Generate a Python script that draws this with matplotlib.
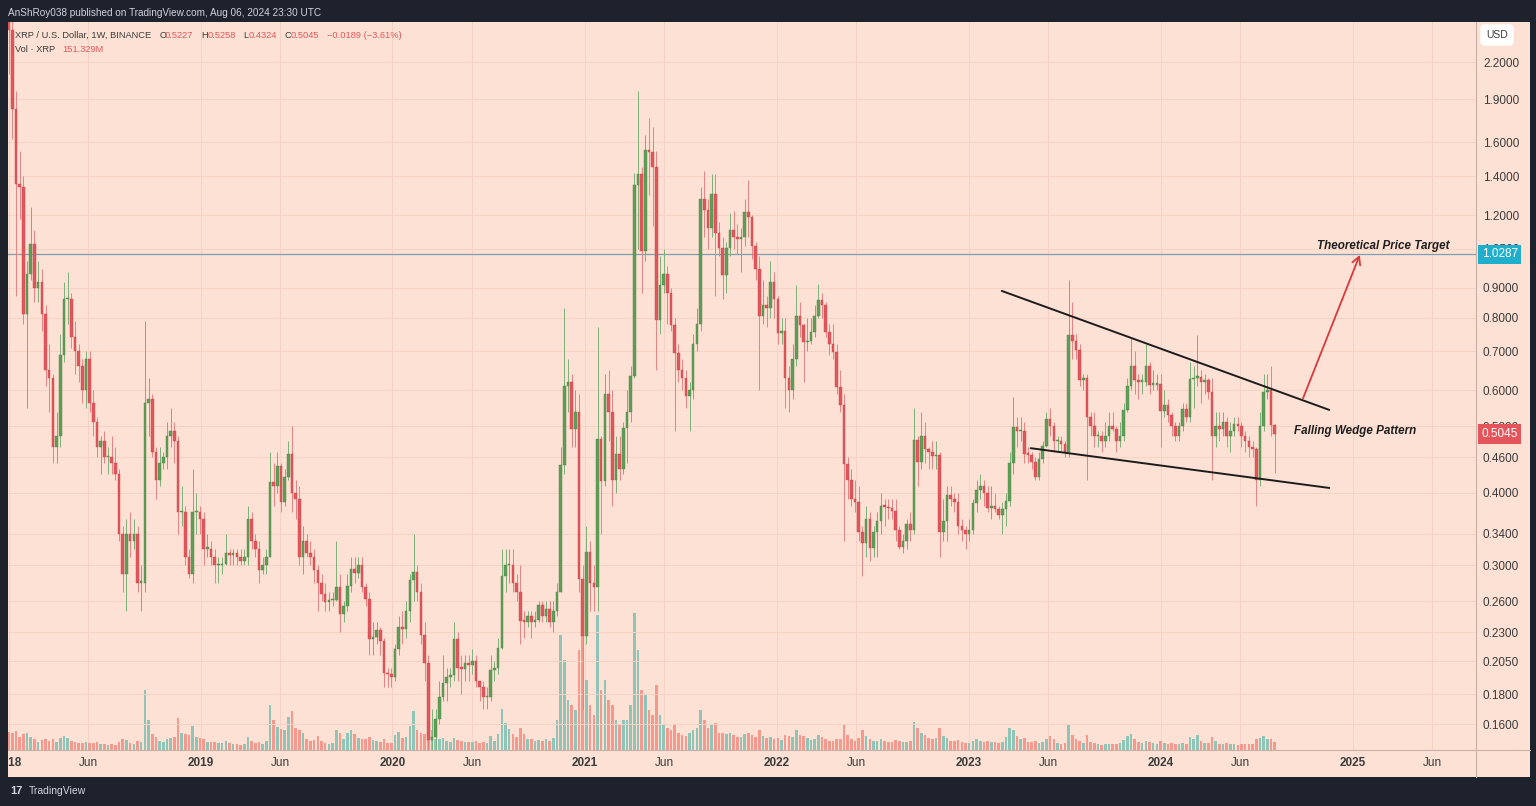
import numpy as np
import matplotlib
matplotlib.use("Agg")
import matplotlib.pyplot as plt
import matplotlib.dates as mdates
from matplotlib.lines import Line2D
from matplotlib.patches import Rectangle
from matplotlib.ticker import NullLocator, NullFormatter

plt.rcParams['font.family'] = ['Liberation Sans', 'DejaVu Sans']

# weekly XRP / USD candles (Binance, 1W), Jan 2018 - Aug 2024
first_open = 2.80

close_2018 = [2.50, 1.83, 1.36, 1.34, 0.81, 0.95, 1.07, 0.90, 0.92, 0.81, 0.65, 0.63, 0.48, 0.50, 0.69, 0.86,
              0.86, 0.74, 0.70, 0.66, 0.60, 0.68, 0.57, 0.53, 0.48, 0.49, 0.46, 0.46, 0.45, 0.43, 0.34, 0.29,
              0.34, 0.33, 0.34, 0.28, 0.28, 0.57, 0.58, 0.47, 0.42, 0.45, 0.46, 0.50, 0.51, 0.49, 0.37, 0.37,
              0.31, 0.29, 0.37, 0.37]
high_2018 = [3.30, 2.62, 1.96, 1.55, 1.40, 1.00, 1.24, 1.13, 1.00, 0.97, 0.84, 0.72, 0.64, 0.55, 0.75, 0.92,
             0.96, 0.88, 0.79, 0.72, 0.68, 0.70, 0.70, 0.60, 0.54, 0.50, 0.51, 0.48, 0.50, 0.48, 0.44, 0.35,
             0.36, 0.37, 0.36, 0.35, 0.30, 0.79, 0.63, 0.59, 0.48, 0.48, 0.47, 0.53, 0.56, 0.53, 0.50, 0.41,
             0.38, 0.32, 0.44, 0.40]
low_2018 = [2.10, 1.62, 0.87, 1.18, 0.78, 0.56, 0.93, 0.85, 0.85, 0.76, 0.61, 0.55, 0.45, 0.45, 0.48, 0.67,
            0.78, 0.71, 0.64, 0.62, 0.57, 0.56, 0.55, 0.50, 0.46, 0.43, 0.45, 0.43, 0.43, 0.42, 0.33, 0.27,
            0.25, 0.31, 0.32, 0.27, 0.25, 0.27, 0.50, 0.46, 0.39, 0.41, 0.44, 0.44, 0.48, 0.45, 0.34, 0.35,
            0.30, 0.285, 0.28, 0.34]
vol_2018 = [340, 320, 360, 250, 300, 330, 240, 200, 160, 190, 200, 170, 210, 150, 220, 260,
            230, 180, 150, 140, 130, 150, 140, 130, 150, 120, 110, 100, 110, 100, 150, 210,
            190, 140, 120, 170, 160, 1140, 560, 300, 250, 180, 150, 200, 230, 240, 600, 330,
            300, 280, 450, 250]

close_2019 = [0.36, 0.32, 0.32, 0.31, 0.30, 0.30, 0.302, 0.315, 0.312, 0.315, 0.31, 0.305, 0.31, 0.36, 0.33, 0.32,
              0.295, 0.30, 0.31, 0.417, 0.41, 0.444, 0.386, 0.425, 0.466, 0.40, 0.39, 0.31, 0.33, 0.315, 0.31, 0.295,
              0.28, 0.268, 0.259, 0.261, 0.262, 0.275, 0.247, 0.255, 0.276, 0.296, 0.291, 0.30, 0.275, 0.263, 0.224,
              0.226, 0.232, 0.222, 0.196, 0.195]
high_2019 = [0.38, 0.37, 0.34, 0.33, 0.32, 0.31, 0.31, 0.34, 0.32, 0.32, 0.32, 0.32, 0.32, 0.38, 0.37, 0.34,
             0.33, 0.31, 0.32, 0.47, 0.45, 0.47, 0.45, 0.44, 0.49, 0.52, 0.42, 0.41, 0.35, 0.34, 0.33, 0.32,
             0.30, 0.29, 0.28, 0.27, 0.27, 0.33, 0.29, 0.26, 0.29, 0.31, 0.31, 0.31, 0.31, 0.28, 0.27, 0.24,
             0.24, 0.235, 0.225, 0.20]
low_2019 = [0.34, 0.30, 0.31, 0.30, 0.28, 0.28, 0.29, 0.30, 0.30, 0.30, 0.30, 0.30, 0.30, 0.30, 0.32, 0.31,
            0.28, 0.29, 0.29, 0.31, 0.38, 0.40, 0.37, 0.38, 0.42, 0.37, 0.36, 0.30, 0.29, 0.31, 0.30, 0.28,
            0.25, 0.26, 0.25, 0.25, 0.255, 0.26, 0.23, 0.24, 0.25, 0.27, 0.28, 0.285, 0.27, 0.255, 0.21, 0.21,
            0.22, 0.21, 0.185, 0.185]
vol_2019 = [230, 200, 160, 150, 150, 140, 130, 180, 130, 120, 110, 100, 110, 250, 180, 130,
            150, 120, 180, 850, 560, 440, 400, 380, 620, 740, 420, 380, 330, 200, 180, 190,
            260, 170, 140, 120, 130, 380, 330, 200, 330, 370, 300, 220, 200, 210, 250, 190,
            170, 160, 200, 140]

close_2020 = [0.193, 0.215, 0.235, 0.233, 0.25, 0.283, 0.292, 0.27, 0.228, 0.204, 0.150, 0.152, 0.163, 0.178,
              0.188, 0.193, 0.194, 0.224, 0.20, 0.199, 0.204, 0.202, 0.205, 0.19, 0.185, 0.178, 0.178, 0.198,
              0.20, 0.216, 0.288, 0.30, 0.30, 0.28, 0.27, 0.241, 0.24, 0.245, 0.24, 0.242, 0.256, 0.245, 0.252,
              0.24, 0.25, 0.27, 0.446, 0.609, 0.62, 0.514, 0.55, 0.284]
high_2020 = [0.20, 0.22, 0.245, 0.25, 0.26, 0.29, 0.34, 0.30, 0.28, 0.24, 0.21, 0.17, 0.17, 0.19,
             0.21, 0.20, 0.20, 0.24, 0.23, 0.21, 0.21, 0.21, 0.215, 0.21, 0.19, 0.19, 0.185, 0.21,
             0.205, 0.225, 0.32, 0.32, 0.32, 0.32, 0.29, 0.30, 0.25, 0.25, 0.25, 0.25, 0.26, 0.26, 0.26,
             0.26, 0.26, 0.28, 0.48, 0.83, 0.68, 0.64, 0.60, 0.59]
low_2020 = [0.185, 0.19, 0.21, 0.22, 0.225, 0.24, 0.26, 0.26, 0.22, 0.19, 0.11, 0.135, 0.145, 0.16,
            0.175, 0.175, 0.185, 0.19, 0.19, 0.18, 0.19, 0.19, 0.195, 0.185, 0.175, 0.17, 0.17, 0.175,
            0.19, 0.195, 0.215, 0.27, 0.28, 0.27, 0.26, 0.22, 0.225, 0.235, 0.225, 0.235, 0.24, 0.24, 0.24,
            0.235, 0.23, 0.245, 0.27, 0.43, 0.55, 0.48, 0.48, 0.27]
vol_2020 = [130, 280, 350, 220, 240, 450, 740, 380, 330, 300, 480, 370, 210, 200,
            220, 170, 160, 230, 190, 170, 160, 150, 160, 170, 140, 150, 130, 260,
            180, 300, 780, 510, 400, 300, 240, 420, 300, 200, 210, 180, 190, 180, 200,
            170, 220, 560, 2180, 1700, 950, 850, 760, 1900]

close_2021 = [0.227, 0.316, 0.28, 0.275, 0.495, 0.419, 0.592, 0.55, 0.42, 0.467, 0.44, 0.517, 0.55, 0.634,
              1.35, 1.41, 1.04, 1.556, 1.54, 1.45, 0.791, 0.91, 0.95, 0.88, 0.776, 0.696, 0.65, 0.63,
              0.587, 0.60, 0.72, 0.779, 1.277, 1.225, 1.14, 1.306, 1.12, 1.054, 0.945, 1.054, 1.13, 1.10,
              1.09, 1.10, 1.216, 1.19, 1.06, 0.97, 0.805, 0.84, 0.83, 0.92, 0.86]
high_2021 = [0.30, 0.35, 0.33, 0.30, 0.77, 0.50, 0.64, 0.65, 0.60, 0.50, 0.50, 0.53, 0.60, 0.66,
             1.42, 1.96, 1.45, 1.65, 1.76, 1.70, 1.55, 1.02, 1.05, 0.98, 0.90, 0.80, 0.72, 0.68,
             0.65, 0.62, 0.75, 0.83, 1.34, 1.43, 1.28, 1.41, 1.41, 1.17, 1.10, 1.08, 1.21, 1.22,
             1.16, 1.14, 1.28, 1.38, 1.20, 1.08, 1.02, 0.93, 0.87, 1.00, 0.96]
low_2021 = [0.17, 0.22, 0.25, 0.25, 0.25, 0.34, 0.41, 0.49, 0.38, 0.40, 0.42, 0.43, 0.45, 0.53,
            0.63, 1.05, 0.88, 1.00, 1.30, 1.15, 0.65, 0.75, 0.88, 0.78, 0.76, 0.51, 0.62, 0.60,
            0.56, 0.51, 0.58, 0.70, 0.76, 1.10, 1.05, 1.10, 0.87, 1.02, 0.86, 0.88, 1.02, 1.05,
            1.03, 0.96, 1.06, 1.10, 1.01, 0.93, 0.60, 0.78, 0.77, 0.80, 0.80]
vol_2021 = [2600, 1330, 850, 660, 2560, 1140, 1330, 950, 850, 570, 480, 570, 570, 850,
            2600, 1900, 1140, 1040, 760, 660, 1230, 660, 480, 420, 380, 480, 330, 280,
            260, 330, 380, 420, 760, 570, 420, 480, 520, 330, 330, 300, 330, 280,
            240, 240, 300, 330, 280, 240, 380, 260, 220, 240, 200]

close_2022 = [0.752, 0.76, 0.63, 0.60, 0.68, 0.805, 0.777, 0.725, 0.73, 0.757, 0.805, 0.858, 0.84, 0.757,
              0.72, 0.697, 0.607, 0.567, 0.448, 0.42, 0.39, 0.385, 0.342, 0.328, 0.36, 0.321, 0.342, 0.358,
              0.379, 0.378, 0.376, 0.372, 0.345, 0.323, 0.33, 0.353, 0.345, 0.493, 0.451, 0.50, 0.475, 0.469,
              0.462, 0.465, 0.342, 0.358, 0.396, 0.39, 0.385, 0.35, 0.345, 0.34]
high_2022 = [0.87, 0.80, 0.80, 0.66, 0.72, 0.91, 0.85, 0.78, 0.80, 0.80, 0.84, 0.915, 0.88, 0.85,
             0.78, 0.78, 0.72, 0.65, 0.59, 0.46, 0.44, 0.42, 0.41, 0.35, 0.38, 0.37, 0.35, 0.37,
             0.40, 0.39, 0.39, 0.39, 0.39, 0.35, 0.34, 0.36, 0.37, 0.56, 0.50, 0.55, 0.53, 0.48,
             0.49, 0.49, 0.47, 0.39, 0.41, 0.41, 0.40, 0.40, 0.36, 0.35]
low_2022 = [0.72, 0.72, 0.56, 0.55, 0.58, 0.66, 0.74, 0.62, 0.70, 0.72, 0.74, 0.80, 0.80, 0.74,
            0.69, 0.68, 0.59, 0.55, 0.33, 0.39, 0.38, 0.37, 0.33, 0.288, 0.31, 0.305, 0.31, 0.31,
            0.34, 0.35, 0.36, 0.36, 0.33, 0.32, 0.315, 0.32, 0.33, 0.34, 0.41, 0.44, 0.45, 0.44,
            0.44, 0.44, 0.31, 0.33, 0.33, 0.38, 0.37, 0.34, 0.33, 0.32]
vol_2022 = [220, 190, 280, 260, 240, 380, 280, 260, 220, 190, 200, 280, 240, 200,
            180, 170, 200, 210, 480, 280, 200, 180, 220, 380, 260, 200, 170, 180,
            200, 170, 160, 150, 190, 170, 150, 160, 180, 530, 420, 330, 280, 220,
            200, 220, 420, 260, 230, 180, 170, 190, 150, 130]

close_2023 = [0.345, 0.384, 0.404, 0.41, 0.40, 0.377, 0.38, 0.375, 0.366, 0.375, 0.387, 0.449, 0.519, 0.51,
              0.51, 0.467, 0.465, 0.452, 0.426, 0.457, 0.481, 0.536, 0.52, 0.49, 0.49, 0.485, 0.47, 0.747,
              0.73, 0.703, 0.625, 0.63, 0.54, 0.52, 0.50, 0.50, 0.49, 0.50, 0.52, 0.515, 0.49, 0.50,
              0.555, 0.61, 0.66, 0.625, 0.62, 0.62, 0.66, 0.613, 0.613, 0.615]
high_2023 = [0.36, 0.39, 0.42, 0.43, 0.42, 0.41, 0.41, 0.40, 0.38, 0.385, 0.40, 0.47, 0.585, 0.54,
             0.54, 0.53, 0.48, 0.47, 0.46, 0.47, 0.49, 0.55, 0.56, 0.53, 0.50, 0.50, 0.49, 0.93,
             0.85, 0.75, 0.72, 0.64, 0.64, 0.55, 0.55, 0.51, 0.51, 0.53, 0.55, 0.55, 0.52, 0.53,
             0.57, 0.63, 0.74, 0.70, 0.64, 0.64, 0.72, 0.67, 0.65, 0.64]
low_2023 = [0.33, 0.34, 0.37, 0.39, 0.38, 0.37, 0.36, 0.37, 0.36, 0.34, 0.35, 0.38, 0.43, 0.48,
            0.49, 0.45, 0.45, 0.44, 0.42, 0.42, 0.45, 0.48, 0.50, 0.47, 0.47, 0.47, 0.46, 0.46,
            0.68, 0.68, 0.61, 0.60, 0.42, 0.50, 0.48, 0.48, 0.47, 0.48, 0.49, 0.51, 0.47, 0.48,
            0.49, 0.55, 0.60, 0.59, 0.58, 0.59, 0.61, 0.59, 0.60, 0.60]
vol_2023 = [140, 180, 200, 170, 160, 170, 160, 150, 140, 160, 240, 420, 380, 260,
            200, 220, 160, 150, 170, 140, 150, 200, 260, 200, 140, 120, 130, 470,
            280, 200, 180, 140, 280, 150, 130, 110, 100, 110, 120, 110, 120, 130,
            190, 260, 300, 200, 150, 130, 170, 160, 130, 110]

close_2024 = [0.552, 0.565, 0.545, 0.52, 0.50, 0.52, 0.556, 0.54, 0.627, 0.63, 0.632, 0.62, 0.625, 0.596,
              0.50, 0.52, 0.515, 0.53, 0.50, 0.51, 0.525, 0.52, 0.50, 0.49, 0.48, 0.475, 0.42, 0.52,
              0.596, 0.60, 0.5227, 0.5045]
high_2024 = [0.64, 0.60, 0.58, 0.55, 0.53, 0.53, 0.57, 0.57, 0.67, 0.66, 0.747, 0.65, 0.64, 0.63,
             0.63, 0.55, 0.55, 0.55, 0.54, 0.53, 0.54, 0.54, 0.53, 0.51, 0.50, 0.49, 0.48, 0.55,
             0.64, 0.64, 0.66, 0.5258]
low_2024 = [0.48, 0.54, 0.53, 0.50, 0.49, 0.49, 0.51, 0.53, 0.53, 0.56, 0.61, 0.57, 0.59, 0.58,
            0.42, 0.48, 0.49, 0.50, 0.48, 0.47, 0.50, 0.51, 0.48, 0.47, 0.46, 0.46, 0.38, 0.41,
            0.51, 0.58, 0.50, 0.4324]
vol_2024 = [180, 140, 120, 130, 110, 120, 140, 120, 250, 200, 280, 180, 130, 140,
            250, 170, 120, 120, 130, 110, 120, 100, 110, 120, 110, 120, 200, 230,
            260, 200, 210, 151.329]

price_ticks = [2.2, 1.9, 1.6, 1.4, 1.2, 1.05, 0.9, 0.8, 0.7, 0.6, 0.52, 0.46, 0.4, 0.34, 0.3,
               0.26, 0.23, 0.205, 0.18, 0.16]
time_labels = [("2018-01-01", "2018"), ("2018-06-01", "Jun"), ("2019-01-01", "2019"), ("2019-06-01", "Jun"),
               ("2020-01-01", "2020"), ("2020-06-01", "Jun"), ("2021-01-01", "2021"), ("2021-06-01", "Jun"),
               ("2022-01-01", "2022"), ("2022-06-01", "Jun"), ("2023-01-01", "2023"), ("2023-06-01", "Jun"),
               ("2024-01-01", "2024"), ("2024-06-01", "Jun"), ("2025-01-01", "2025"), ("2025-06-01", "Jun")]
target_price = 1.0287
last_price = 0.5045

# drawings on the chart (date, price)
upper_wedge = [("2023-03-05", 0.889), ("2024-11-17", 0.555)]
lower_wedge = [("2023-04-29", 0.477), ("2024-11-17", 0.4075)]
breakout_arrow = [("2024-09-28", 0.581), ("2025-01-14", 1.025)]

BG = "#fde1d4"
FRAME = "#1e222d"
GRID = "#f5d2c4"
TXT = "#3b3b3b"
RED_TXT = "#e0585c"
UP, UP_EDGE, UP_WICK = "#5e9e58", "#4b8846", "#7eb078"
DN, DN_EDGE, DN_WICK = "#e0575c", "#c8474d", "#e58383"
VOL_UP, VOL_DN = "#8fc4b6", "#f5998f"

W, H = 1536, 806


def fx(px):
    return px / W


def fy(py):
    return 1 - py / H


def dn(s):
    return mdates.date2num(np.datetime64(s))


closes = np.array(close_2018 + close_2019 + close_2020 + close_2021 + close_2022 + close_2023 + close_2024)
highs = np.array(high_2018 + high_2019 + high_2020 + high_2021 + high_2022 + high_2023 + high_2024)
lows = np.array(low_2018 + low_2019 + low_2020 + low_2021 + low_2022 + low_2023 + low_2024)
volumes = np.array(vol_2018 + vol_2019 + vol_2020 + vol_2021 + vol_2022 + vol_2023 + vol_2024)
opens = np.concatenate([[first_open], closes[:-1]])

weeks = np.datetime64("2018-01-01") + np.arange(len(closes)) * np.timedelta64(7, "D")
x = mdates.date2num(weeks)
rising = closes >= opens

fig = plt.figure(figsize=(W / 100, H / 100), dpi=100)
fig.patch.set_facecolor(FRAME)
fig.add_artist(Rectangle((fx(8), fy(777)), fx(1530) - fx(8), fy(22) - fy(777),
                         transform=fig.transFigure, facecolor=BG, edgecolor="none", zorder=-5))

rect = [fx(8), fy(750), fx(1476) - fx(8), fy(22) - fy(750)]
ax_vol = fig.add_axes(rect)
ax = fig.add_axes(rect)
ax_time = fig.add_axes([fx(8), fy(777), fx(1476) - fx(8), fy(750) - fy(777)])
ax_vol.set_zorder(1)
ax.set_zorder(2)
ax_time.set_zorder(1)

# bar i sits at 8.7 + 3.68*i px
x0 = dn("2018-01-01")
xlim = (x0 + (8 - 8.7) / 3.68 * 7, x0 + (1476 - 8.7) / 3.68 * 7)

for a in (ax, ax_vol, ax_time):
    a.set_facecolor("none")
    a.set_xlim(*xlim)
    for s in a.spines.values():
        s.set_visible(False)
    a.set_xticks([])

# volume pane
ax_vol.set_ylim(0, 13800)
ax_vol.set_yticks([])
ax_vol.bar(x, volumes, width=5.0, color=[VOL_UP if r else VOL_DN for r in rising], linewidth=0, zorder=2)

# candles
ax.set_yscale("log")
ax.set_ylim(0.1444, 2.578)
body_lo = np.minimum(opens, closes)
body_hi = np.maximum(np.maximum(opens, closes), body_lo * 1.006)
ax.vlines(x, lows, highs, colors=[UP_WICK if r else DN_WICK for r in rising], lw=0.7, zorder=2)
ax.bar(x, body_hi - body_lo, bottom=body_lo, width=5.0,
       color=[UP if r else DN for r in rising], edgecolor=[UP_EDGE if r else DN_EDGE for r in rising],
       linewidth=0.3, zorder=3)

# grid
for p in price_ticks:
    ax.axhline(p, color=GRID, lw=0.7, zorder=0)
for d, lab in time_labels:
    ax_vol.axvline(dn(d), color=GRID, lw=0.7, zorder=0)
    ax_time.text(dn(d), 0.5, lab, ha="center", va="center", fontsize=8.5, color=TXT,
                 fontweight="normal" if lab == "Jun" else "bold", clip_on=True)
ax_time.set_ylim(0, 1)
ax_time.set_yticks([])

ax.axhline(target_price, color="#7f9eae", lw=0.9, zorder=1.5)

# price scale
ax.yaxis.tick_right()
ax.set_yticks(price_ticks)
ax.set_yticklabels([f"{p:.4f}" for p in price_ticks])
ax.yaxis.set_minor_locator(NullLocator())
ax.yaxis.set_minor_formatter(NullFormatter())
ax.tick_params(axis="y", which="both", length=0, pad=5, labelsize=8.5, labelcolor=TXT)

for val, col in ((target_price, "#1faecb"), (last_price, "#e3555b")):
    ax.annotate(f"{val:.4f}", xy=(1, val), xycoords=("axes fraction", "data"), xytext=(4, 0),
                textcoords="offset points", ha="left", va="center", fontsize=8.5, color="white",
                bbox=dict(boxstyle="square,pad=0.3", fc=col, ec="none"), annotation_clip=False, zorder=10)

# wedge drawing, arrow and notes
for seg in (upper_wedge, lower_wedge):
    ax.plot([dn(seg[0][0]), dn(seg[1][0])], [seg[0][1], seg[1][1]], color="#1c1c1c", lw=1.4,
            zorder=5, solid_capstyle="round")
ax.annotate("", xy=(dn(breakout_arrow[1][0]), breakout_arrow[1][1]),
            xytext=(dn(breakout_arrow[0][0]), breakout_arrow[0][1]),
            arrowprops=dict(arrowstyle="->,head_length=0.55,head_width=0.3", color="#d8393c", lw=1.3,
                            shrinkA=0, shrinkB=0), zorder=5)
ax.text(dn("2025-02-27"), 1.062, "Theoretical Price Target", ha="center", va="center", fontsize=8.4,
        fontweight="bold", fontstyle="italic", color="#1e1e1e", zorder=6)
ax.text(dn("2025-01-05"), 0.511, "Falling Wedge Pattern", ha="center", va="center", fontsize=8.4,
        fontweight="bold", fontstyle="italic", color="#1e1e1e", zorder=6)

# pane dividers
DIV = "#c7b0a6"
fig.add_artist(Line2D([fx(8), fx(1530)], [fy(750), fy(750)], transform=fig.transFigure, color=DIV, lw=0.8, zorder=8))
fig.add_artist(Line2D([fx(1476), fx(1476)], [fy(22), fy(777)], transform=fig.transFigure, color=DIV, lw=0.8, zorder=8))

fig.text(fx(1497), fy(35), "USD", ha="center", va="center", fontsize=7.5, color=TXT, zorder=9,
         bbox=dict(boxstyle="round,pad=0.55,rounding_size=0.4", fc="white", ec="none"))

# header texts
fig.text(fx(8), fy(13), "AnShRoy038 published on TradingView.com, Aug 06, 2024 23:30 UTC",
         ha="left", va="center", fontsize=7.2, color="#d1d4dc")
header = [("XRP / U.S. Dollar, 1W, BINANCE", 15, TXT), ("O", 159.5, TXT), ("0.5227", 165, RED_TXT),
          ("H", 201.5, TXT), ("0.5258", 207.5, RED_TXT), ("L", 243.5, TXT), ("0.4324", 248.5, RED_TXT),
          ("C", 284.5, TXT), ("0.5045", 290.5, RED_TXT), ("\u22120.0189 (\u22123.61%)", 327, RED_TXT)]
for s, px, col in header:
    fig.text(fx(px), fy(35), s, ha="left", va="center", fontsize=6.7, color=col, zorder=9)
fig.text(fx(15), fy(50), "Vol \u00b7 XRP", ha="left", va="center", fontsize=6.7, color=TXT, zorder=9)
fig.text(fx(62), fy(50), "151.329M", ha="left", va="center", fontsize=6.7, color=RED_TXT, zorder=9)

# footer
fig.text(fx(10), fy(791), "17", ha="left", va="center", fontsize=8, fontweight="bold", color="#d1d4dc")
fig.text(fx(29), fy(791), "TradingView", ha="left", va="center", fontsize=7.5, color="#d1d4dc")

fig.savefig("out.png", dpi=100, facecolor=FRAME)
